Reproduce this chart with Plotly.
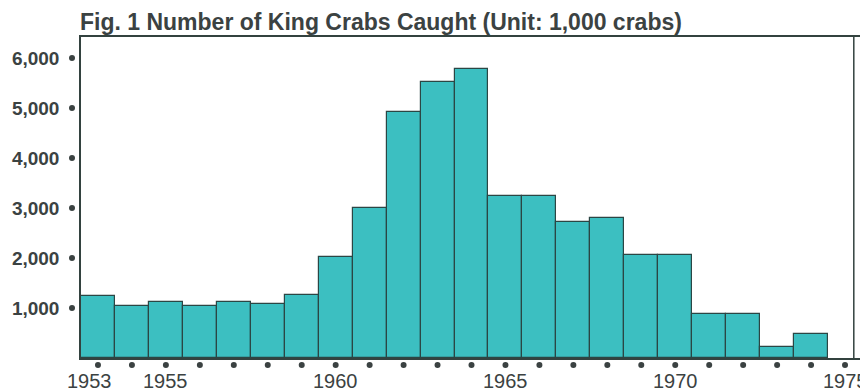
import plotly.graph_objects as go

years = list(range(1953, 1975))
catch = [1240, 1050, 1130, 1040, 1130, 1090, 1270, 2020, 3010, 4920, 5520, 5790,
         3240, 3240, 2730, 2810, 2070, 2070, 890, 875, 220, 490]
dot_years = list(range(1953, 1976))
ytick_vals = [1000, 2000, 3000, 4000, 5000, 6000]
ytick_text = ["1,000", "2,000", "3,000", "4,000", "5,000", "6,000"]
xlabel_years = [1953, 1955, 1960, 1965, 1970, 1975]
xlabel_text = ["1953", "1955", "1960", "1965", "1970", "1975"]
title = "Fig. 1 Number of King Crabs Caught (Unit: 1,000 crabs)"

TEXT = "#3b4242"
LINE = "#33423f"
BAR = "#3cbfc1"
FONT = "Liberation Sans, Arial, sans-serif"

# The page body keeps its default 8px margin, so the figure is sized to
# fill the remaining visible window area.
fig = go.Figure()
fig.add_trace(go.Bar(
    x=years, y=catch, width=1,
    marker=dict(color=BAR, line=dict(color="#2b4644", width=1.2)),
    hoverinfo="x+y",
))

shapes = []
for yr in dot_years:
    shapes.append(dict(
        type="circle", xref="x", yref="paper",
        xsizemode="pixel", ysizemode="pixel",
        xanchor=yr, x0=-3, x1=3, yanchor=0, y0=-10, y1=-4,
        fillcolor=TEXT, line=dict(width=0),
    ))
for v in ytick_vals:
    shapes.append(dict(
        type="circle", xref="paper", yref="y",
        xsizemode="pixel", ysizemode="pixel",
        xanchor=0, x0=-12, x1=-6, yanchor=v, y0=-3, y1=3,
        fillcolor=TEXT, line=dict(width=0),
    ))
# right-hand frame edge, kept inside the visible part of the window
shapes.append(dict(
    type="line", xref="paper", yref="paper", x0=0.9895, x1=0.9895, y0=0, y1=1,
    line=dict(color=LINE, width=1.5),
))

annotations = []
for yr, txt in zip(xlabel_years, xlabel_text):
    xs = -8 if yr == 1953 else 0
    annotations.append(dict(
        x=yr, y=0, xref="x", yref="paper", text=txt, showarrow=False,
        yanchor="top", xanchor="center", yshift=-10, xshift=xs,
        font=dict(family=FONT, size=20, color=TEXT),
    ))
annotations.append(dict(
    x=0, y=1, xref="paper", yref="paper", text="<b>" + title + "</b>",
    showarrow=False, xanchor="left", yanchor="bottom", xshift=-3, yshift=0,
    font=dict(family=FONT, size=23, color=TEXT),
))

fig.update_layout(
    width=860, height=383,
    margin=dict(l=72, r=4, t=29, b=33),
    paper_bgcolor="white", plot_bgcolor="white",
    showlegend=False, bargap=0,
    annotations=annotations, shapes=shapes,
    xaxis=dict(range=[1952.5, 1975.5], showticklabels=False, ticks="",
               showgrid=False, zeroline=False,
               showline=True, mirror=True, linecolor=LINE, linewidth=1.5),
    yaxis=dict(range=[0, 6420], tickvals=ytick_vals, ticktext=ytick_text,
               ticks="", ticklabelstandoff=16, showgrid=False, zeroline=False,
               showline=True, mirror=True, linecolor=LINE, linewidth=1.5,
               tickfont=dict(family=FONT, size=19, color=TEXT, weight="bold")),
)

fig.write_html("out.html")
